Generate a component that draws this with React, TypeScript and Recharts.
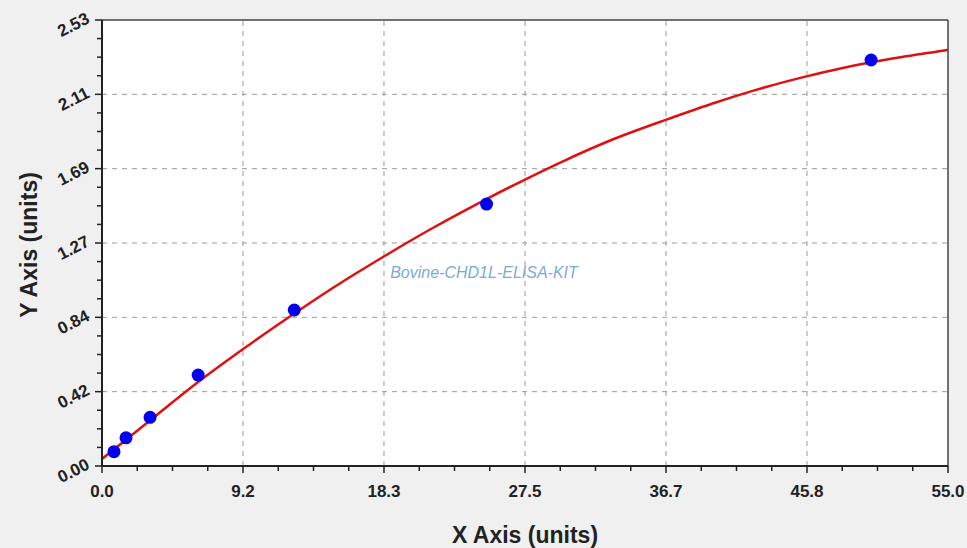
import React from "react"
import {
  ComposedChart,
  Line,
  Scatter,
  XAxis,
  YAxis,
  ReferenceLine,
  ReferenceArea,
} from "recharts"

// standard points (concentration, OD)
const stdX = [0.78, 1.56, 3.125, 6.25, 12.5, 25, 50]
const stdY = [0.081, 0.16, 0.276, 0.516, 0.885, 1.486, 2.303]

// fitted curve
const curveX = [0, 3, 6, 9.2, 12.5, 15, 18.35, 21.5, 24.9, 27.5, 30, 33, 36.7, 40, 42.3, 45.8, 48, 50, 52, 55]
const curveY = [0.04, 0.25, 0.46, 0.665, 0.865, 1.01, 1.19, 1.35, 1.51, 1.625, 1.73, 1.845, 1.965, 2.065, 2.128, 2.21, 2.255, 2.29, 2.32, 2.36]

const xMajor = [0, 9.1667, 18.3333, 27.5, 36.6667, 45.8333, 55]
const xLabels = ["0.0", "9.2", "18.3", "27.5", "36.7", "45.8", "55.0"]
const yMajor = [0, 0.4217, 0.8433, 1.265, 1.6867, 2.1083, 2.53]
const yLabels = ["0.00", "0.42", "0.84", "1.27", "1.69", "2.11", "2.53"]

const points = stdX.map((x, i) => ({ x, y: stdY[i] }))
const curve = curveX.map((x, i) => ({ x, y: curveY[i] }))

// majors plus 3 minor ticks between each pair
const withMinor = (major: number[]) => {
  const out: number[] = []
  major.forEach((v, i) => {
    out.push(v)
    if (i < major.length - 1) {
      const step = (major[i + 1] - v) / 4
      for (let k = 1; k < 4; k++) out.push(v + step * k)
    }
  })
  return out
}

const findMajor = (arr: number[], v: number) => arr.findIndex((m) => Math.abs(m - v) < 1e-6)

const tickFont = { fontFamily: "'Liberation Sans', Arial, sans-serif", fontWeight: 700, fontSize: 17, fill: "#222" }

const XTick = (props: any) => {
  const { x, y, payload } = props
  const i = findMajor(xMajor, payload.value)
  return (
    <g>
      <line x1={x} x2={x} y1={y} y2={y + (i >= 0 ? 7 : 5)} stroke="#222" strokeWidth={1.5} />
      {i >= 0 && (
        <text x={x} y={y + 31} textAnchor="middle" {...tickFont}>
          {xLabels[i]}
        </text>
      )}
    </g>
  )
}

const YTick = (props: any) => {
  const { x, y, payload } = props
  const i = findMajor(yMajor, payload.value)
  const tx = x - 14
  const ty = y - 3
  return (
    <g>
      <line x1={x} x2={x - (i >= 0 ? 7 : 5)} y1={y} y2={y} stroke="#222" strokeWidth={1.5} />
      {i >= 0 && (
        <text x={tx} y={ty} dy="0.35em" textAnchor="end" transform={`rotate(-27, ${tx}, ${ty})`} {...tickFont}>
          {yLabels[i]}
        </text>
      )}
    </g>
  )
}

const Dot = (props: any) => <circle cx={props.cx} cy={props.cy} r={6.5} fill="#0000ee" />

const gridStyle = { stroke: "#9a9a9a", strokeDasharray: "5 5", strokeWidth: 1 }

export default function App() {
  return (
    <div style={{ position: "relative", width: 967, height: 548, background: "#f0f0f0" }}>
      <style>{`body{margin:0}`}</style>
      <ComposedChart width={967} height={548} margin={{ top: 20, right: 19, left: 0, bottom: 0 }}>
        <XAxis
          type="number"
          dataKey="x"
          domain={[0, 55]}
          ticks={withMinor(xMajor)}
          interval={0}
          tickSize={0}
          tickMargin={0}
          tickLine={false}
          tick={<XTick />}
          axisLine={{ stroke: "#222", strokeWidth: 2 }}
          height={82}
          allowDataOverflow
        />
        <YAxis
          type="number"
          domain={[0, 2.53]}
          ticks={withMinor(yMajor)}
          interval={0}
          tickSize={0}
          tickMargin={0}
          tickLine={false}
          tick={<YTick />}
          axisLine={{ stroke: "#222", strokeWidth: 2 }}
          width={102}
          allowDataOverflow
        />
        <ReferenceArea x1={0} x2={55} y1={0} y2={2.53} fill="#fff" fillOpacity={1} stroke="none" />
        {xMajor.slice(1, -1).map((v) => (
          <ReferenceLine key={"x" + v} x={v} {...gridStyle} />
        ))}
        {yMajor.slice(1, -1).map((v) => (
          <ReferenceLine key={"y" + v} y={v} {...gridStyle} />
        ))}
        <ReferenceLine y={2.53} stroke="#444" strokeWidth={1.5} />
        <ReferenceLine x={55} stroke="#444" strokeWidth={1.5} />
        <Line
          data={curve}
          dataKey="y"
          type="monotone"
          stroke="#e01010"
          strokeWidth={2.5}
          dot={false}
          activeDot={false}
          isAnimationActive={false}
        />
        <Scatter data={points} dataKey="y" fill="#0000ee" shape={<Dot />} isAnimationActive={false} />
      </ComposedChart>
      <svg width={967} height={548} style={{ position: "absolute", left: 0, top: 0, pointerEvents: "none" }}>
        <text x={525} y={543} textAnchor="middle" fontFamily="'Liberation Sans', Arial, sans-serif" fontWeight={700} fontSize={23} fill="#222">
          X Axis (units)
        </text>
        <text
          x={37}
          y={245}
          textAnchor="middle"
          transform="rotate(-90, 37, 245)"
          fontFamily="'Liberation Sans', Arial, sans-serif"
          fontWeight={700}
          fontSize={23}
          fill="#222"
        >
          Y Axis (units)
        </text>
        <text x={484} y={278} textAnchor="middle" fontFamily="'Liberation Sans', Arial, sans-serif" fontStyle="italic" fontSize={16} fill="#7aaad8">
          Bovine-CHD1L-ELISA-KIT
        </text>
      </svg>
    </div>
  )
}
